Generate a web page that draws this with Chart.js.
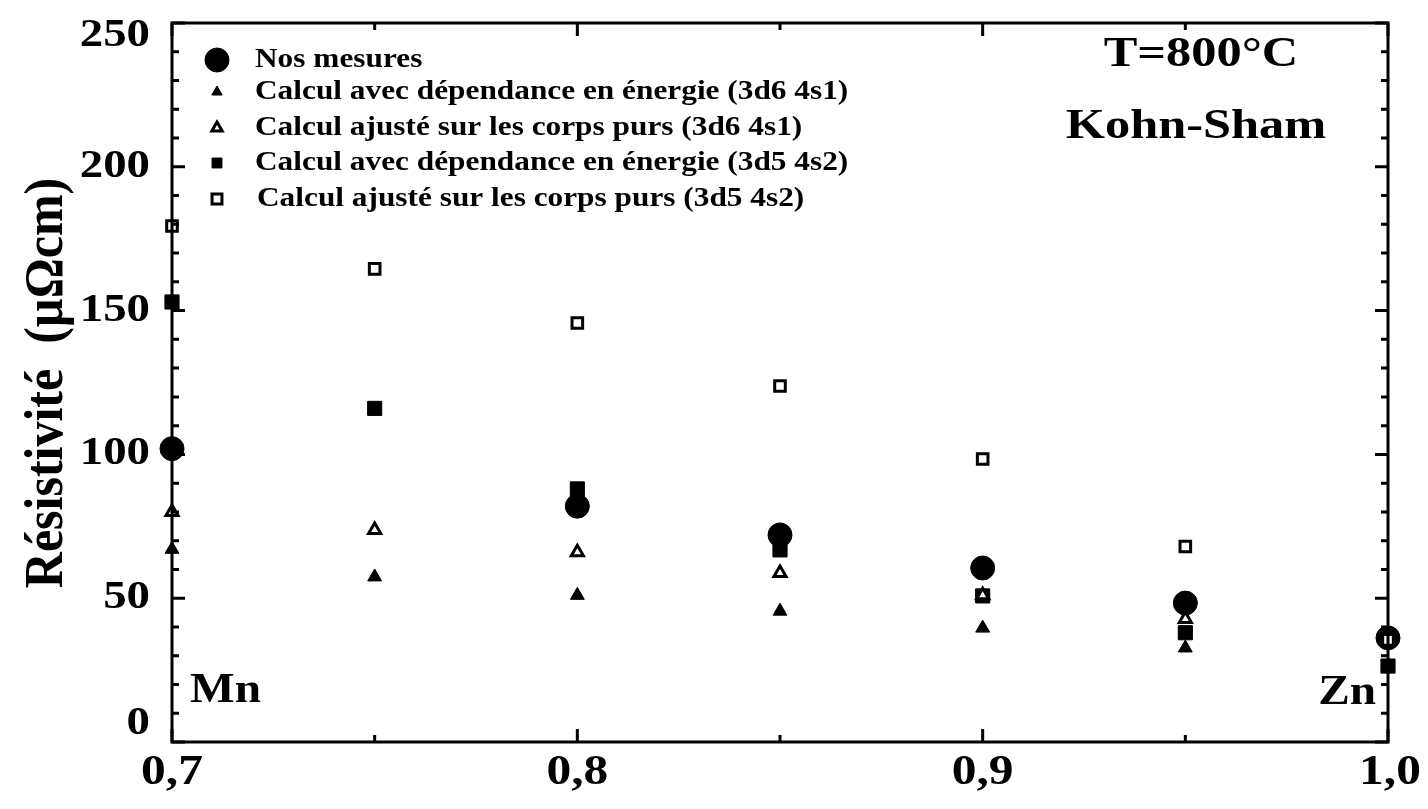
<!DOCTYPE html>
<html lang="fr">
<head>
<meta charset="UTF-8">
<title>Résistivité — T=800°C, Kohn-Sham</title>
<style>
    html, body { margin: 0; padding: 0; background: #fff; }
    #wrap { width: 1428px; height: 809px; }
</style>
<script src="https://cdn.jsdelivr.net/npm/chart.js"></script>
</head>
<body>
<div id="wrap"><canvas id="resChart" width="1428" height="809"></canvas></div>
<script>
// concentration (x) and resistivity values in µΩcm
const concentrations = [0.7, 0.75, 0.8, 0.85, 0.9, 0.95, 1.0];
const mesures     = [102, null, 82, 72, 60.5, 48.3, 36.2];
const energie3d6  = [67, 57.4, 51, 45.5, 39.6, 32.7, null];
const ajuste3d6   = [80, 73.7, 66, 58.8, 51, 42.8, null];
const energie3d5  = [153, 116, 88, 66.8, 50.8, 38, 26.4];
const ajuste3d5   = [179.4, 164.5, 145.7, 123.8, 98.4, 68, 35.5];

const legendLabels = [
    'Nos mesures',
    'Calcul avec dépendance en énergie (3d6 4s1)',
    'Calcul ajusté sur les corps purs (3d6 4s1)',
    'Calcul avec dépendance en énergie (3d5 4s2)',
    'Calcul ajusté sur les corps purs (3d5 4s2)'
];

const yTickValues = [0, 50, 100, 150, 200, 250];
const yTickLabels = ['0', '50', '100', '150', '200', '250'];
const xTickValues = [0.7, 0.8, 0.9, 1.0];
const xTickLabels = ['0,7', '0,8', '0,9', '1,0'];

const SERIF = '"Liberation Serif", "Times New Roman", serif';
const SX = 1.2; // the lettering is set wide

function points(values) {
    const out = [];
    values.forEach((v, i) => {
        if (v !== null) out.push({ x: concentrations[i], y: v });
    });
    return out;
}

function wideText(ctx, text, x, y, size, align, sx) {
    ctx.save();
    ctx.font = 'bold ' + size + 'px ' + SERIF;
    ctx.fillStyle = '#000';
    ctx.textBaseline = 'middle';
    ctx.translate(x, y);
    ctx.scale(sx || SX, 1);
    ctx.textAlign = align || 'left';
    ctx.fillText(text, 0, 0);
    ctx.restore();
}

// frame, inward ticks and all lettering
const decorations = {
    id: 'decorations',
    afterDatasetsDraw(chart) {
        const ctx = chart.ctx;
        const a = chart.chartArea;
        const xs = chart.scales.x, ys = chart.scales.y;

        ctx.save();
        ctx.strokeStyle = '#000';
        ctx.lineWidth = 3;
        ctx.strokeRect(a.left, a.top, a.right - a.left, a.bottom - a.top);

        ctx.beginPath();
        for (let v = 0; v <= 250; v += 10) {
            const py = ys.getPixelForValue(v);
            const len = v % 50 === 0 ? 13 : 7;
            ctx.moveTo(a.left, py); ctx.lineTo(a.left + len, py);
            ctx.moveTo(a.right, py); ctx.lineTo(a.right - len, py);
        }
        for (let k = 14; k <= 20; k++) {
            const px = xs.getPixelForValue(k * 0.05);
            const len = k % 2 === 0 ? 13 : 7;
            ctx.moveTo(px, a.bottom); ctx.lineTo(px, a.bottom - len);
            ctx.moveTo(px, a.top); ctx.lineTo(px, a.top + len);
        }
        ctx.stroke();
        ctx.restore();

        // tick labels
        yTickValues.forEach((v, i) => {
            let py = ys.getPixelForValue(v);
            py = Math.min(Math.max(py, 36), 724);
            wideText(ctx, yTickLabels[i], 150, py, 39, 'right');
        });
        xTickValues.forEach((v, i) => {
            const px = xs.getPixelForValue(v);
            wideText(ctx, xTickLabels[i], px + (i === 3 ? 2 : 0), 773, 43, 'center', 1.15);
        });

        // axis title
        ctx.save();
        ctx.translate(48, 383);
        ctx.rotate(-Math.PI / 2);
        ctx.scale(1, 1.1);
        ctx.font = 'bold 50px ' + SERIF;
        ctx.fillStyle = '#000';
        ctx.textAlign = 'center';
        ctx.textBaseline = 'middle';
        ctx.fillText('Résistivité  (µΩcm)', 0, 0);
        ctx.restore();

        // annotations
        wideText(ctx, 'T=800°C', 1201, 55, 42, 'center');
        wideText(ctx, 'Kohn-Sham', 1196, 127, 42, 'center');
        wideText(ctx, 'Mn', 190, 691, 43, 'left', 1.1);
        wideText(ctx, 'Zn', 1376, 693, 43, 'right', 1.1);

        // legend
        const sizes = [12, 6, 6, 7, 7];
        const rows = [60, 92, 128, 163, 199];
        chart.data.datasets.forEach((ds, i) => {
            ctx.save();
            ctx.fillStyle = ds.backgroundColor;
            ctx.strokeStyle = ds.borderColor;
            ctx.lineWidth = ds.borderWidth;
            Chart.helpers.drawPoint(ctx, {
                pointStyle: ds.pointStyle,
                radius: sizes[i],
                rotation: 0,
                borderWidth: ds.borderWidth
            }, 217, rows[i]);
            ctx.restore();
            wideText(ctx, legendLabels[i], i === 4 ? 257 : 255, rows[i], 27, 'left', 1.16);
        });
    }
};

const ctx = document.getElementById('resChart').getContext('2d');
new Chart(ctx, {
    type: 'scatter',
    data: {
        datasets: [
            {
                label: legendLabels[0], data: points(mesures),
                pointStyle: 'circle', pointRadius: 12,
                backgroundColor: '#000', borderColor: '#000', borderWidth: 1,
                order: 4, clip: false
            },
            {
                label: legendLabels[1], data: points(energie3d6),
                pointStyle: 'triangle', pointRadius: 8,
                backgroundColor: '#000', borderColor: '#000', borderWidth: 1,
                order: 2, clip: false
            },
            {
                label: legendLabels[2], data: points(ajuste3d6),
                pointStyle: 'triangle', pointRadius: 7,
                backgroundColor: '#fff', borderColor: '#000', borderWidth: 3,
                order: 1, clip: false
            },
            {
                label: legendLabels[3], data: points(energie3d5),
                pointStyle: 'rect', pointRadius: 10,
                backgroundColor: '#000', borderColor: '#000', borderWidth: 1,
                order: 3, clip: false
            },
            {
                label: legendLabels[4], data: points(ajuste3d5),
                pointStyle: 'rect', pointRadius: 7.5,
                backgroundColor: '#fff', borderColor: '#000', borderWidth: 3,
                order: 0, clip: false
            }
        ]
    },
    options: {
        responsive: false,
        animation: false,
        events: [],
        layout: { padding: { top: 23, right: 40, left: 0, bottom: 0 } },
        plugins: { legend: { display: false }, tooltip: { enabled: false } },
        scales: {
            x: {
                type: 'linear', min: 0.7, max: 1.0,
                grid: { display: false }, border: { display: false },
                ticks: { display: false },
                afterFit(s) { s.height = 67; }
            },
            y: {
                min: 0, max: 250,
                grid: { display: false }, border: { display: false },
                ticks: { display: false },
                afterFit(s) { s.width = 172; }
            }
        }
    },
    plugins: [decorations]
});
</script>
</body>
</html>
